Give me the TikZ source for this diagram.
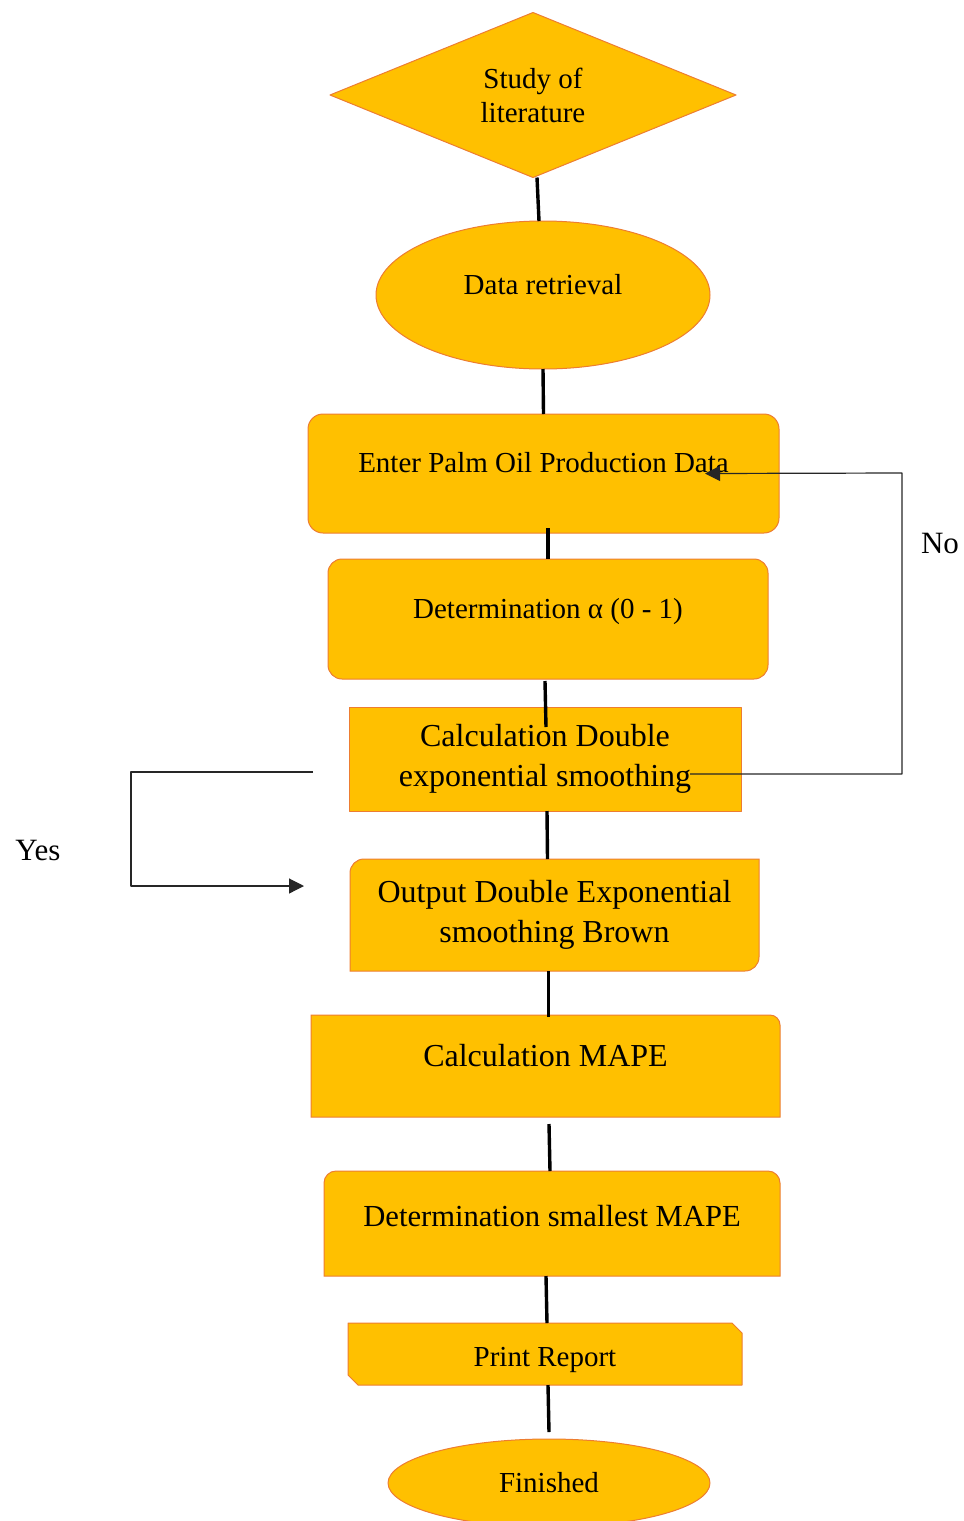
\documentclass[tikz,border=0pt]{standalone}
\usepackage{fontspec}
\setmainfont{Liberation Serif}
\usetikzlibrary{shapes.geometric,shapes.misc,arrows.meta,backgrounds}
\definecolor{gold}{HTML}{FFC000}
\definecolor{edge}{HTML}{ED7D31}
\begin{document}
\begin{tikzpicture}[x=0.5pt,y=-0.5pt,line join=round,
  every node/.style={inner sep=0pt,outer sep=0pt},
  fnt/.style={font=\fontsize{14.5}{17}\selectfont},
  big/.style={font=\fontsize{16}{20}\selectfont},
  lbl/.style={font=\fontsize{15.5}{18}\selectfont},
  blk/.style={fill=gold,draw=edge,line width=0.5pt},
  link/.style={line width=1.7pt},
  back/.style={black!85,line width=0.6pt,-{Triangle[length=7.5pt,width=7.5pt]}}]
\useasboundingbox (0,0) rectangle (964,1521);
% flow boxes
\node[blk,fnt,diamond,shape aspect=2.46,minimum width=203pt,minimum height=82.5pt,align=center] (study) at (533,95) {Study of\\literature};
\node[blk,fnt,ellipse,minimum width=167pt,minimum height=74pt,text depth=10.3pt] (data) at (543,295) {Data retrieval};
\node[blk,fnt,rounded corners=7.5pt,minimum width=235.5pt,minimum height=59.5pt,text depth=10.8pt] (enter) at (543.5,473.5) {Enter Palm Oil Production Data};
\node[blk,fnt,rounded corners=7pt,minimum width=220pt,minimum height=60pt,text depth=10.3pt] (alpha) at (548,619) {Determination α (0 - 1)};
\node[blk,big,minimum width=196pt,minimum height=52pt,align=center] (calcdes) at (545,759) {Calculation Double\\exponential smoothing};
\node[big,minimum width=204.5pt,minimum height=56pt,align=center] (output) at (554.5,915) {Output Double Exponential\\smoothing Brown};
\node[big,minimum width=234.5pt,minimum height=51pt,text depth=10.2pt] (mape) at (545.5,1066) {Calculation MAPE};
\node[font=\fontsize{15.3}{18}\selectfont,minimum width=228pt,minimum height=52.5pt,text depth=7.8pt] (smallest) at (552,1223.5) {Determination smallest MAPE};
\node[blk,fnt,chamfered rectangle,chamfered rectangle corners={north east,south west},chamfered rectangle xsep=2.5pt,chamfered rectangle ysep=2.5pt,minimum width=197pt,minimum height=31pt,text height=16pt] (print) at (545,1354) {Print Report};
\node[blk,fnt,ellipse,minimum width=161pt,minimum height=44pt] (finished) at (549,1483) {Finished};
% boxes with some rounded corners
\begin{scope}[on background layer]
\draw[blk] (output.south west) -- ([yshift=-7pt]output.north west) arc[start angle=180,end angle=90,radius=7pt] -- (output.north east) -- ([yshift=7pt]output.south east) arc[start angle=0,end angle=-90,radius=7pt] -- cycle;
\draw[blk] (mape.south west) -- (mape.north west) -- ([xshift=-5pt]mape.north east) arc[start angle=90,end angle=0,radius=5pt] -- (mape.south east) -- cycle;
\draw[blk] (smallest.south west) -- ([yshift=-6pt]smallest.north west) arc[start angle=180,end angle=90,radius=6pt] -- ([xshift=-6pt]smallest.north east) arc[start angle=90,end angle=0,radius=6pt] -- (smallest.south east) -- cycle;
\end{scope}
% main line
\foreach \a/\b/\ax/\ay/\bx/\by in {study/data/2/0/-2/0,data/enter/0/0/0/0,enter/alpha/2.25/2.5/0/0,alpha/calcdes/-1.5/-1/0.5/-10,calcdes/output/1/0/-3.5/0,output/mape/-3/0/1.5/-1,mape/smallest/1.75/-3.5/-1/0,smallest/print/-3/0/1/0,print/finished/1.5/0/0/3.5}
  \draw[link] ([xshift=\ax pt,yshift=\ay pt]\a.south) -- ([xshift=\bx pt,yshift=\by pt]\b.north);
% No / Yes
\coordinate (noturn) at (902,473);
\coordinate (yesturn) at (131,886);
\draw[back] ([xshift=72.5pt,yshift=-7.5pt]calcdes.center) -| (noturn) -- ([xshift=80.75pt]enter.center);
\draw[back] ([xshift=-18pt,yshift=-6.5pt]calcdes.west) -| (yesturn) -- ([xshift=-23pt,yshift=14.5pt]output.west);
\node[lbl] (no) at (940,543) {No};
\node[lbl] (yes) at (38,850) {Yes};
\end{tikzpicture}
\end{document}
